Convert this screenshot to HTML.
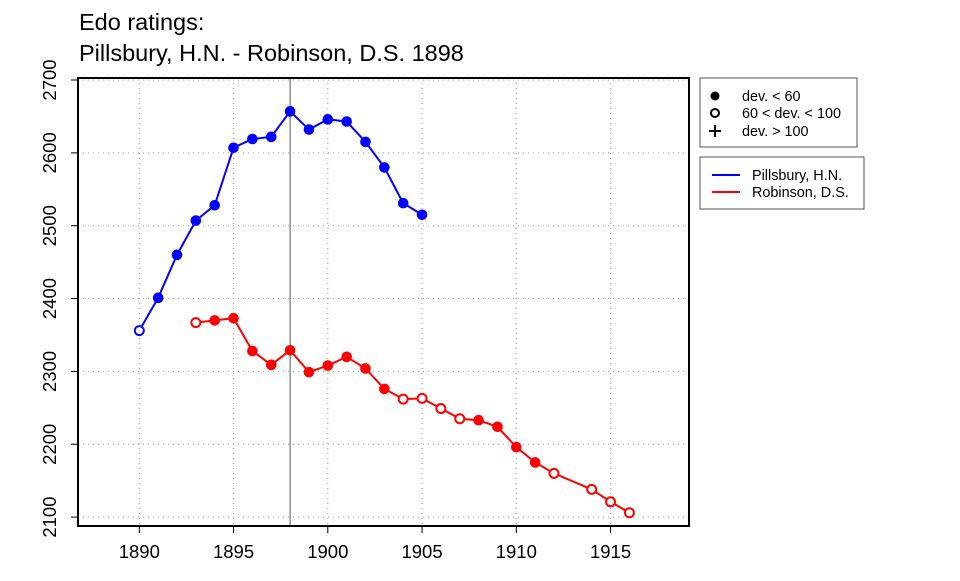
<!DOCTYPE html>
<html><head><meta charset="utf-8"><style>
body{margin:0;background:#fff;}
svg text{font-family:"Liberation Sans",sans-serif;}
</style></head><body>
<svg id="chart" width="960" height="576" xmlns="http://www.w3.org/2000/svg">
<text x="79" y="30" font-size="23.5">Edo ratings:</text>
<text x="79" y="61" font-size="23.5">Pillsbury, H.N. - Robinson, D.S. 1898</text>
<g id="grid"></g>
<g id="axes"></g>
<line id="vline" stroke="#555" stroke-width="1"/>
<g id="series"></g>
<rect x="78" y="78" width="611" height="448" fill="none" stroke="#000" stroke-width="2"/>
<g>
<rect x="700" y="78" width="157" height="69" fill="#fff" stroke="#555"/>
<circle cx="715" cy="96" r="4.5" fill="#000"/>
<text x="742" y="101" font-size="14.4">dev. &lt; 60</text>
<circle cx="715" cy="113" r="4" fill="none" stroke="#000" stroke-width="2"/>
<text x="742" y="118" font-size="14.4">60 &lt; dev. &lt; 100</text>
<path d="M709 131h12M715 125v12" stroke="#000" stroke-width="2"/>
<text x="742" y="136" font-size="14.4">dev. &gt; 100</text>
</g>
<g>
<rect x="700" y="157" width="164" height="52" fill="#fff" stroke="#555"/>
<line x1="712" y1="175" x2="740" y2="175" stroke="#00f" stroke-width="2"/>
<text x="752" y="180" font-size="14.4">Pillsbury, H.N.</text>
<line x1="712" y1="192" x2="740" y2="192" stroke="#f00" stroke-width="2"/>
<text x="752" y="197" font-size="14.4">Robinson, D.S.</text>
</g>
</svg>
<script>
const pYears=[1890,1891,1892,1893,1894,1895,1896,1897,1898,1899,1900,1901,1902,1903,1904,1905];
const pRatings=[2356,2401,2460,2507,2528,2607,2619,2622,2657,2632,2646,2643,2615,2580,2531,2515];
const pOpen=[1,0,0,0,0,0,0,0,0,0,0,0,0,0,0,0];
const rYears=[1893,1894,1895,1896,1897,1898,1899,1900,1901,1902,1903,1904,1905,1906,1907,1908,1909,1910,1911,1912,1914,1915,1916];
const rRatings=[2367,2370,2373,2328,2309,2329,2299,2308,2320,2304,2276,2262,2263,2249,2235,2233,2224,2196,2175,2160,2138,2121,2106];
const rOpen=[1,0,0,0,0,0,0,0,0,0,0,1,1,1,1,0,0,0,0,1,1,1,1];
const xTicks=[1890,1895,1900,1905,1910,1915];
const yTicks=[2100,2200,2300,2400,2500,2600,2700];
const eventYear=1898;
const X=y=>139.3+(y-1890)*18.85;
const Y=v=>80+(2700-v)*0.7285;
const NS="http://www.w3.org/2000/svg";
function mk(tag,attrs,parent){const e=document.createElementNS(NS,tag);for(const k in attrs)e.setAttribute(k,attrs[k]);parent.appendChild(e);return e;}
const grid=document.getElementById('grid'),axes=document.getElementById('axes'),series=document.getElementById('series');
xTicks.forEach(t=>{
 const g=mk('line',{x1:X(t),x2:X(t),y1:78,y2:526,stroke:'#999','stroke-dasharray':'1 4'},grid);
 
 
 const l=mk('line',{x1:X(t),x2:X(t),y1:526,y2:533,stroke:'#000'},axes);
 
 
 const tx=mk('text',{x:X(t),y:558,'font-size':18.5,'text-anchor':'middle'},axes);tx.textContent=t;
 
 
});
yTicks.forEach(t=>{
 const g=mk('line',{x1:78,x2:689,y1:Y(t),y2:Y(t),stroke:'#999','stroke-dasharray':'1 4'},grid);
 
 
 const l=mk('line',{x1:71,x2:78,y1:Y(t),y2:Y(t),stroke:'#000'},axes);
 
 
 const tx=mk('text',{x:0,y:0,'font-size':18.5,'text-anchor':'middle',transform:`translate(56,${Y(t)}) rotate(-90)`},axes);tx.textContent=t;
 
 
});
const vl=document.getElementById('vline');
vl.setAttribute('x1',X(eventYear));vl.setAttribute('x2',X(eventYear));vl.setAttribute('y1',78);vl.setAttribute('y2',526);
function draw(years,vals,open,color,name){
 const pl=mk('polyline',{points:years.map((y,i)=>X(y)+','+Y(vals[i])).join(' '),fill:'none',stroke:color,'stroke-width':2},series);
 
 
 years.forEach((y,i)=>{
  const c=open[i]?mk('circle',{cx:X(y),cy:Y(vals[i]),r:4.5,fill:'#fff',stroke:color,'stroke-width':2},series):mk('circle',{cx:X(y),cy:Y(vals[i]),r:5.3,fill:color},series);
  
  
 });
}
draw(pYears,pRatings,pOpen,'#00f','pillsbury');
draw(rYears,rRatings,rOpen,'#f00','robinson');
</script>
</body></html>
